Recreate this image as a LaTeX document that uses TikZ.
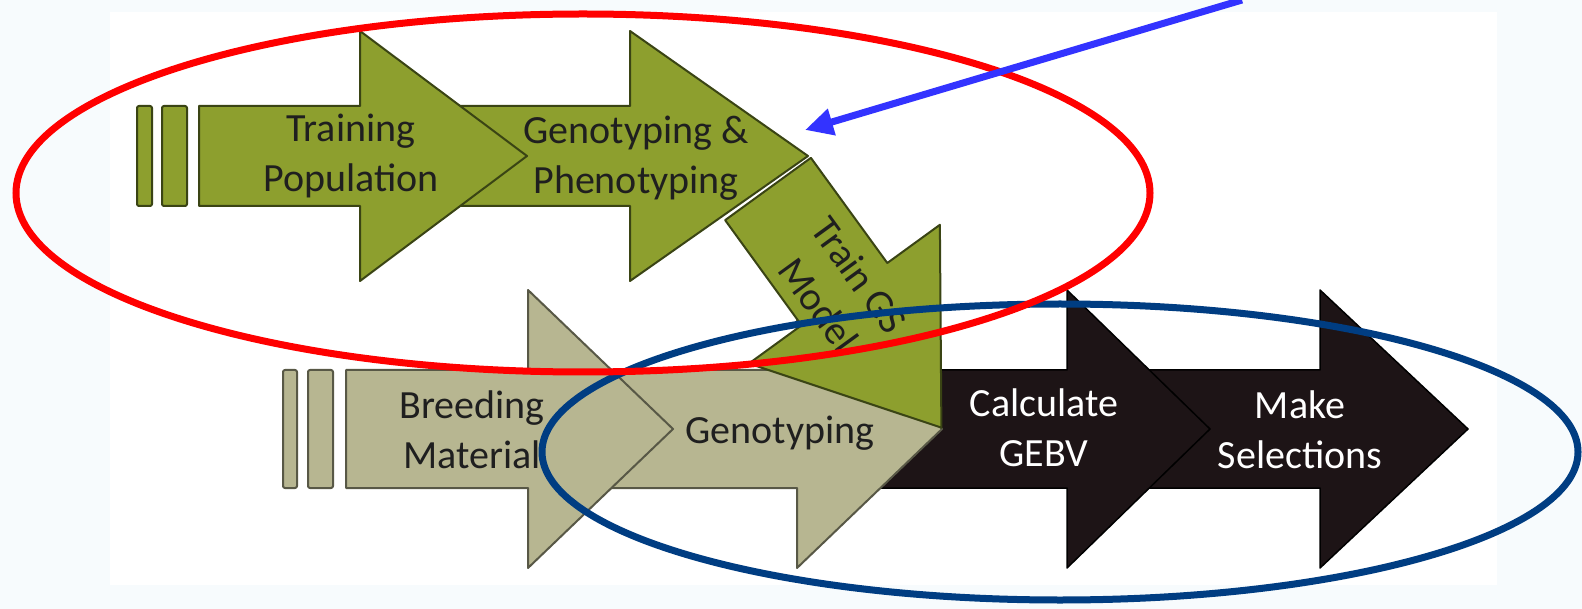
\documentclass[tikz,border=0pt]{standalone}
\usepackage{fontspec}
\setmainfont{Carlito}
\usetikzlibrary{arrows.meta}
\definecolor{gsolive}{RGB}{141,159,46}
\definecolor{gsolivedark}{RGB}{58,68,20}
\definecolor{gskhaki}{RGB}{183,182,145}
\definecolor{gskhakidark}{RGB}{88,88,70}
\definecolor{gsblack}{RGB}{29,20,22}
\definecolor{ringred}{RGB}{255,0,0}
\definecolor{ringnavy}{RGB}{0,61,130}
\definecolor{pointblue}{RGB}{51,51,255}
\definecolor{pagebg}{RGB}{247,251,253}
\begin{document}
\begin{tikzpicture}[x=1pt,y=-1pt,
        lbl/.style={align=center,inner sep=0pt,text=black!88,font=\fontsize{40}{50}\selectfont},
        wlbl/.style={lbl,text=white},
        olivearrow/.style={fill=gsolive,draw=gsolivedark,line width=2pt,line join=round},
        khakiarrow/.style={fill=gskhaki,draw=gskhakidark,line width=2pt,line join=round},
        darkarrow/.style={fill=gsblack,draw=black,line width=1.5pt,line join=round},
        ring/.style={line width=7pt},
        pointer/.style={draw=pointblue,line width=7pt,-{Triangle[length=28pt,width=26pt]}}]
    \useasboundingbox (0,0) rectangle (1582,609);
    \fill[pagebg] (0,0) rectangle (1582,609);
    \fill[white] (110,12) rectangle (1497,585);

    \filldraw[darkarrow] (1130,370) -- (1320,370) -- (1320,290) -- (1468,429) -- (1320,568) -- (1320,488) -- (1130,488) -- cycle;
    \filldraw[darkarrow] (870,370) -- (1067,370) -- (1067,290) -- (1210,429) -- (1067,568) -- (1067,488) -- (870,488) -- cycle;
    \filldraw[khakiarrow] (600,370) -- (797,370) -- (797,290) -- (942,429) -- (797,568) -- (797,488) -- (600,488) -- cycle;
    \filldraw[khakiarrow] (346,370) -- (528,370) -- (528,290) -- (673,429) -- (528,568) -- (528,488) -- (346,488) -- cycle;
    \filldraw[khakiarrow,rounded corners=2pt] (283,370) rectangle (297,488);
    \filldraw[khakiarrow,rounded corners=2pt] (308,370) rectangle (333,488);

    \filldraw[olivearrow] (440,106) -- (630,106) -- (630,31) -- (808,156) -- (630,281) -- (630,206) -- (440,206) -- cycle;
    \filldraw[olivearrow] (199,106) -- (360,106) -- (360,31) -- (527,156) -- (360,281) -- (360,206) -- (199,206) -- cycle;
    \filldraw[olivearrow,rounded corners=2pt] (137,106) rectangle (152,206);
    \filldraw[olivearrow,rounded corners=2pt] (162,106) rectangle (187,206);
    \begin{scope}[shift={(768,189)},rotate=-54]
        \filldraw[olivearrow] (0,-53) -- (130,-53) -- (130,-118) -- (295,0) -- (130,118) -- (130,53) -- (0,53) -- cycle;
    \end{scope}

    \node[lbl] (train) at (351,156) {Training\\Population};
    \node[lbl] (genopheno) at (636,158) {Genotyping \&\\Phenotyping};
    \node[lbl,rotate=-54] (trainGS) at (839,290) {Train GS\\Model};
    \node[lbl] (breed) at (472,430) {Breeding\\Material};
    \node[lbl] (geno) at (780,433) {Genotyping};
    \node[wlbl] (gebv) at (1044,428) {Calculate\\GEBV};
    \node[wlbl] (select) at (1300,430) {Make\\Selections};

    \draw[ring,ringnavy] (1060,452) ellipse [x radius=518pt,y radius=148pt];
    \draw[ring,ringred] (583,193) ellipse [x radius=567pt,y radius=179pt];

    \coordinate (blueStart) at (1242,0);
    \coordinate (gpTip) at (805,130);
    \draw[pointer] (blueStart) -- (gpTip);
\end{tikzpicture}
\end{document}
